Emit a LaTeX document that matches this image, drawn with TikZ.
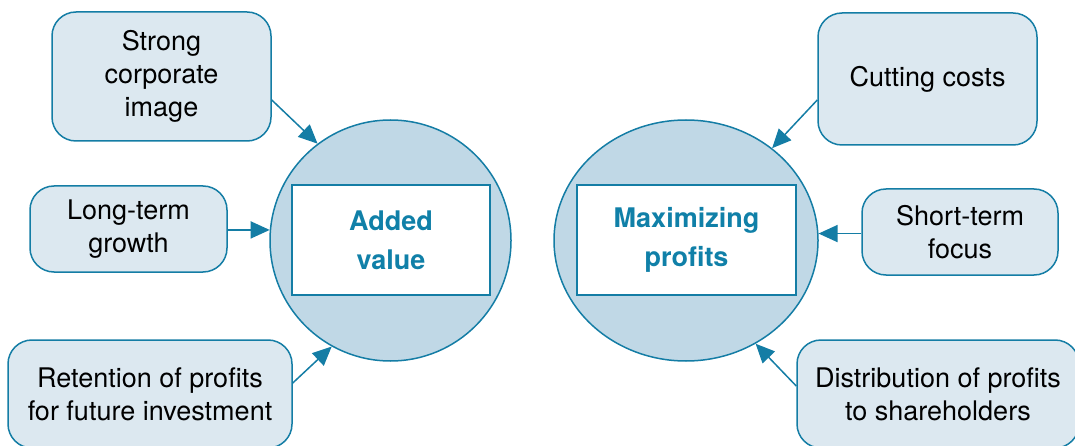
\documentclass[tikz,border=0pt]{standalone}
\usepackage{fontspec}
\setmainfont{TeX Gyre Heros}
\usetikzlibrary{arrows.meta,shapes.geometric}
\definecolor{lineblue}{RGB}{20,125,165}
\definecolor{boxfill}{RGB}{220,232,240}
\definecolor{circfill}{RGB}{192,216,230}
\definecolor{titleblue}{RGB}{16,128,168}
\tikzset{
  sidebox/.style={draw=lineblue, line width=1.5pt, fill=boxfill, rounded corners=24pt,
    align=center, inner sep=0pt, font=\fontsize{27}{33}\selectfont},
  bigcirc/.style={ellipse, draw=lineblue, line width=1.5pt, fill=circfill, inner sep=0pt},
  titlebox/.style={draw=lineblue, line width=2pt, fill=white, align=center, inner sep=0pt,
    minimum height=110pt, font=\fontsize{27}{39}\selectfont\bfseries, text=titleblue},
  conn/.style={draw=lineblue, line width=1.5pt, -{Triangle[length=19pt,width=17pt]}}
}
\begin{document}
\begin{tikzpicture}[x=1pt,y=-1pt]
\useasboundingbox (0,0) rectangle (1075,446);
% central shapes
\node[bigcirc, minimum width=241pt, minimum height=241pt] (av) at (390.5,240.5) {};
\node[bigcirc, minimum width=264pt, minimum height=241pt] (mp) at (686,240.5) {};
\node[titlebox, minimum width=198pt] (avt) at (391,240) {Added\\value};
\node[titlebox, minimum width=219pt] (mpt) at (686.5,240) {Maximizing\\profits};
% left boxes
\node[sidebox, minimum width=219pt, minimum height=129pt] (sc) at (161.5,76.5) {Strong\\corporate\\image};
\node[sidebox, minimum width=197pt, minimum height=86pt] (lt) at (128.5,229) {Long-term\\growth};
\node[sidebox, minimum width=284pt, minimum height=108pt] (rt) at (150,394) {Retention of profits\\for future investment};
% right boxes
\node[sidebox, minimum width=219pt, minimum height=132pt] (cc) at (927.5,79) {Cutting costs};
\node[sidebox, minimum width=196pt, minimum height=86pt] (st) at (960,232) {Short-term\\focus};
\node[sidebox, minimum width=282pt, minimum height=108pt] (db) at (938,394) {Distribution of profits\\to shareholders};
% connector end points on the circles
\coordinate (e2) at (av.175.5);
\coordinate (e5) at (mp.3.7);
% connectors
\draw[conn] ([yshift=-23.5pt]sc.east) -- (av.127);
\draw[conn] (lt.east |- e2) -- (e2);
\draw[conn] ([yshift=11pt]rt.east) -- (av.-119);
\draw[conn] ([yshift=-21pt]cc.west) -- (mp.47);
\draw[conn] (st.west |- e5) -- (e5);
\draw[conn] ([yshift=8pt]db.west) -- (mp.-56.6);
\end{tikzpicture}
\end{document}
